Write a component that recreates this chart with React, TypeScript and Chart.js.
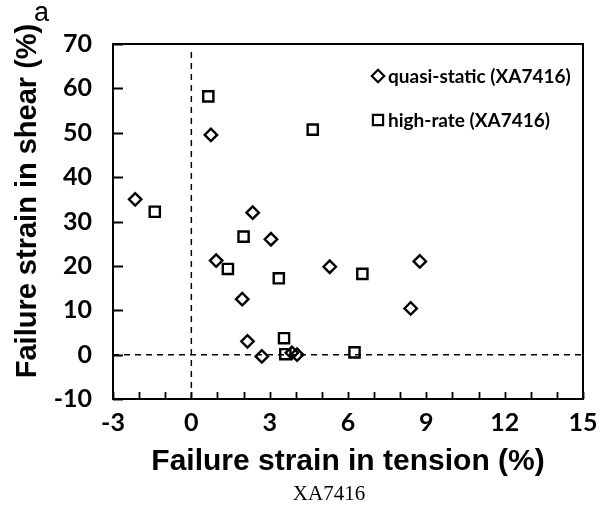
import React, { useEffect, useRef } from 'react';
import { Chart, registerables } from 'chart.js';

Chart.register(...registerables);

// ---- data ----
const quasiStaticX = [-2.15, 0.75, 2.35, 3.05, 0.95, 5.3, 8.75, 1.95, 8.4, 2.15, 2.7, 3.85, 4.05];
const quasiStaticY = [35, 49.5, 32, 26, 21.2, 19.8, 21, 12.5, 10.4, 3, -0.4, 0.4, 0];
const highRateX = [0.65, 4.65, -1.4, 2.0, 1.4, 3.35, 6.55, 3.55, 3.6, 6.25];
const highRateY = [58.2, 50.7, 32.2, 26.6, 19.3, 17.2, 18.2, 3.7, 0.1, 0.5];

const xTickLabels = [-3, 0, 3, 6, 9, 12, 15];
const yTickLabels = [-10, 0, 10, 20, 30, 40, 50, 60, 70];

const seriesLabels = ['quasi-static (XA7416)', 'high-rate (XA7416)'];
const xTitle = 'Failure strain in tension (%)';
const yTitle = 'Failure strain in shear (%)';
const panelLetter = 'a';
const caption = 'XA7416';

const toPoints = (xs: number[], ys: number[]) => xs.map((x, i) => ({ x, y: ys[i] }));

function drawMarker(ctx: CanvasRenderingContext2D, style: string, cx: number, cy: number, r: number) {
  ctx.beginPath();
  if (style === 'rectRot') {
    ctx.moveTo(cx - r, cy);
    ctx.lineTo(cx, cy - r);
    ctx.lineTo(cx + r, cy);
    ctx.lineTo(cx, cy + r);
    ctx.closePath();
  } else {
    const s = Math.SQRT1_2 * r;
    ctx.rect(cx - s, cy - s, 2 * s, 2 * s);
  }
  ctx.stroke();
}

const decorPlugin = {
  id: 'decor',
  afterDraw(chart: any) {
    const { ctx, chartArea } = chart;
    const { left, right, top, bottom } = chartArea;
    const xs = chart.scales.x;
    const ys = chart.scales.y;
    ctx.save();
    ctx.strokeStyle = '#000';
    ctx.lineWidth = 2;
    ctx.setLineDash([]);
    ctx.strokeRect(left, top, right - left, bottom - top);

    // inward tick marks
    ctx.lineWidth = 1.8;
    ctx.beginPath();
    xs.ticks.forEach((t: any) => {
      const px = Math.round(xs.getPixelForValue(t.value)) + 0.5;
      ctx.moveTo(px, bottom);
      ctx.lineTo(px, bottom - 7);
    });
    ys.ticks.forEach((t: any) => {
      const py = Math.round(ys.getPixelForValue(t.value)) + 0.5;
      ctx.moveTo(left, py);
      ctx.lineTo(left + 10, py);
    });
    ctx.stroke();

    // legend inside the plot (top right)
    const legendItems = chart.data.datasets.filter((d: any) => d.inLegend);
    ctx.font = 'bold 19px Lato';
    ctx.fillStyle = '#000';
    ctx.textBaseline = 'middle';
    ctx.textAlign = 'left';
    legendItems.forEach((d: any, i: number) => {
      const cy = 76 + i * 44;
      ctx.lineWidth = 2.2;
      drawMarker(ctx, d.pointStyle, 378, cy, d.pointRadius);
      ctx.fillText(d.label, 388, cy + 1);
    });

    // y title (rotated)
    ctx.save();
    ctx.translate(28, 201);
    ctx.rotate(-Math.PI / 2);
    ctx.font = 'bold 29px "Liberation Sans"';
    ctx.textAlign = 'center';
    ctx.textBaseline = 'middle';
    ctx.fillText(yTitle, 0, 0);
    ctx.restore();

    // panel letter
    ctx.font = '27px "Liberation Sans"';
    ctx.textAlign = 'left';
    ctx.textBaseline = 'alphabetic';
    ctx.fillText(panelLetter, 34, 21);

    // caption
    ctx.font = '21px "Liberation Serif"';
    ctx.textAlign = 'center';
    ctx.fillText(caption, 329, 500);
    ctx.restore();
  },
};

export default function App() {
  const ref = useRef<HTMLCanvasElement>(null);
  useEffect(() => {
    document.body.style.margin = '0';
    const canvas = ref.current!;
    const tickFont = { family: 'Lato', size: 25, weight: 'bold' as const };
    const chart = new Chart(canvas, {
      type: 'scatter',
      data: {
        datasets: [
          {
            type: 'line',
            label: 'x0',
            data: [{ x: 0, y: -10 }, { x: 0, y: 68.6 }],
            borderColor: '#000',
            borderWidth: 1.5,
            borderDash: [6, 5],
            pointRadius: 0,
            fill: false,
          } as any,
          {
            type: 'line',
            label: 'y0',
            data: [{ x: -3, y: 0 }, { x: 15, y: 0 }],
            borderColor: '#000',
            borderWidth: 1.5,
            borderDash: [6, 5],
            pointRadius: 0,
            fill: false,
          } as any,
          {
            label: seriesLabels[0],
            data: toPoints(quasiStaticX, quasiStaticY),
            pointStyle: 'rectRot',
            pointRadius: 6.2,
            borderWidth: 2.4,
            borderColor: '#000',
            backgroundColor: 'rgba(0,0,0,0)',
            inLegend: true,
          } as any,
          {
            label: seriesLabels[1],
            data: toPoints(highRateX, highRateY),
            pointStyle: 'rect',
            pointRadius: 7.2,
            borderWidth: 2.4,
            borderColor: '#000',
            backgroundColor: 'rgba(0,0,0,0)',
            inLegend: true,
          } as any,
        ],
      },
      options: {
        responsive: false,
        animation: false,
        devicePixelRatio: 1,
        layout: { padding: { top: 44, right: 25, left: 0, bottom: 0 } },
        plugins: { legend: { display: false }, tooltip: { enabled: false }, title: { display: false } },
        scales: {
          x: {
            type: 'linear',
            min: -3,
            max: 15,
            afterFit: (s: any) => { s.height = 112; },
            grid: { display: false },
            border: { display: false },
            ticks: {
              stepSize: 1,
              autoSkip: false,
              maxRotation: 0,
              padding: 1,
              color: '#000',
              font: tickFont,
              callback: (v: any) => (xTickLabels.includes(Number(v)) ? String(v) : ''),
            },
            title: {
              display: true,
              text: xTitle,
              color: '#000',
              font: { family: 'Liberation Sans', size: 30, weight: 'bold' },
              padding: { top: 0, bottom: 31 },
            },
          },
          y: {
            type: 'linear',
            min: -10,
            max: 70,
            afterFit: (s: any) => { s.width = 113; },
            grid: { display: false },
            border: { display: false },
            ticks: {
              stepSize: 10,
              padding: 13,
              color: '#000',
              font: tickFont,
              callback: (v: any) => (yTickLabels.includes(Number(v)) ? String(v) : ''),
            },
          },
        },
      },
      plugins: [decorPlugin],
    });
    return () => chart.destroy();
  }, []);
  return (
    <div style={{ width: 608, height: 511 }}>
      <canvas ref={ref} width={608} height={511} style={{ display: 'block' }} />
    </div>
  );
}
